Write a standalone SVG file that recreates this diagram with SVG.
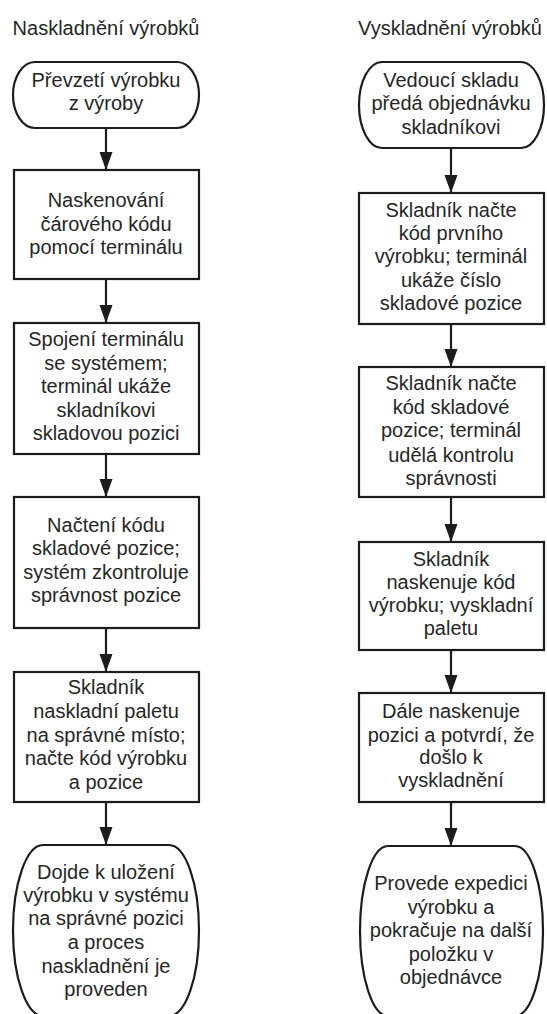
<svg xmlns="http://www.w3.org/2000/svg" width="547" height="1014" viewBox="0 0 547 1014">
  <style>
    .shape { fill: #ffffff; stroke: #1c1c1c; stroke-width: 2.2; }
    .label { font-family: "Liberation Sans", Arial, sans-serif; font-size: 20px; fill: #262626; text-anchor: middle; }
    .title { font-family: "Liberation Sans", Arial, sans-serif; font-size: 20px; fill: #262626; text-anchor: middle; }
    .flow { stroke: #1c1c1c; stroke-width: 2.2; fill: none; marker-end: url(#arrow); }
  </style>
  <defs>
    <marker id="arrow" markerUnits="userSpaceOnUse" markerWidth="18" markerHeight="14" refX="18" refY="7" orient="auto">
      <path d="M0,0.5 L18,7 L0,13.5 z" fill="#1c1c1c"/>
    </marker>
  </defs>
  <rect width="547" height="1014" fill="#ffffff"/>

  <!-- column headings -->
  <text class="title" x="106" y="35">Naskladnění výrobků</text>
  <text class="title" x="450" y="35">Vyskladnění výrobků</text>

  <!-- connectors -->
  <g id="connectors">
    <line class="flow" x1="106" y1="128" x2="106" y2="170"/>
    <line class="flow" x1="106" y1="279" x2="106" y2="323"/>
    <line class="flow" x1="106" y1="454" x2="106" y2="497"/>
    <line class="flow" x1="106" y1="628" x2="106" y2="672"/>
    <line class="flow" x1="106" y1="802" x2="106" y2="845"/>
    <line class="flow" x1="451" y1="148" x2="451" y2="193"/>
    <line class="flow" x1="451" y1="324" x2="451" y2="367"/>
    <line class="flow" x1="451" y1="497" x2="451" y2="542"/>
    <line class="flow" x1="451" y1="650" x2="451" y2="693"/>
    <line class="flow" x1="451" y1="802" x2="451" y2="846"/>
  </g>

  <!-- inbound process -->
  <g id="in-start">
    <path class="shape" d="M35,62 H177 A22 33 0 0 1 177,128 H35 A22 33 0 0 1 35,62 Z"/>
    <text class="label" x="106" y="87">Převzetí výrobku</text>
    <text class="label" x="106" y="110">z výroby</text>
  </g>
  <g id="in-scan">
    <rect class="shape" x="14" y="170" width="185" height="109"/>
    <text class="label" x="106" y="207">Naskenování</text>
    <text class="label" x="106" y="231">čárového kódu</text>
    <text class="label" x="106" y="254">pomocí terminálu</text>
  </g>
  <g id="in-connect">
    <rect class="shape" x="14" y="323" width="185" height="131"/>
    <text class="label" x="106" y="346">Spojení terminálu</text>
    <text class="label" x="106" y="370">se systémem;</text>
    <text class="label" x="106" y="393">terminál ukáže</text>
    <text class="label" x="106" y="417">skladníkovi</text>
    <text class="label" x="106" y="440">skladovou pozici</text>
  </g>
  <g id="in-check">
    <rect class="shape" x="14" y="497" width="185" height="131"/>
    <text class="label" x="106" y="532">Načtení kódu</text>
    <text class="label" x="106" y="555">skladové pozice;</text>
    <text class="label" x="106" y="579">systém zkontroluje</text>
    <text class="label" x="106" y="602">správnost pozice</text>
  </g>
  <g id="in-store">
    <rect class="shape" x="14" y="672" width="185" height="130"/>
    <text class="label" x="106" y="694">Skladník</text>
    <text class="label" x="106" y="718">naskladní paletu</text>
    <text class="label" x="106" y="742">na správné místo;</text>
    <text class="label" x="106" y="765">načte kód výrobku</text>
    <text class="label" x="106" y="789">a pozice</text>
  </g>
  <g id="in-end">
    <path class="shape" d="M43,845 H169 A30 85.5 0 0 1 169,1016 H43 A30 85.5 0 0 1 43,845 Z"/>
    <text class="label" x="106" y="879">Dojde k uložení</text>
    <text class="label" x="106" y="902">výrobku v systému</text>
    <text class="label" x="106" y="925">na správné pozici</text>
    <text class="label" x="106" y="949">a proces</text>
    <text class="label" x="106" y="973">naskladnění je</text>
    <text class="label" x="106" y="996">proveden</text>
  </g>

  <!-- outbound process -->
  <g id="out-start">
    <path class="shape" d="M382,62 H521 A23 43 0 0 1 521,148 H382 A23 43 0 0 1 382,62 Z"/>
    <text class="label" x="451" y="87">Vedoucí skladu</text>
    <text class="label" x="451" y="110">předá objednávku</text>
    <text class="label" x="451" y="134">skladníkovi</text>
  </g>
  <g id="out-item">
    <rect class="shape" x="359" y="193" width="185" height="131"/>
    <text class="label" x="451" y="217">Skladník načte</text>
    <text class="label" x="451" y="240">kód prvního</text>
    <text class="label" x="451" y="263">výrobku; terminál</text>
    <text class="label" x="451" y="287">ukáže číslo</text>
    <text class="label" x="451" y="310">skladové pozice</text>
  </g>
  <g id="out-position">
    <rect class="shape" x="359" y="367" width="185" height="130"/>
    <text class="label" x="451" y="390">Skladník načte</text>
    <text class="label" x="451" y="414">kód skladové</text>
    <text class="label" x="451" y="437">pozice; terminál</text>
    <text class="label" x="451" y="462">udělá kontrolu</text>
    <text class="label" x="451" y="485">správnosti</text>
  </g>
  <g id="out-pick">
    <rect class="shape" x="359" y="542" width="185" height="108"/>
    <text class="label" x="451" y="566">Skladník</text>
    <text class="label" x="451" y="589">naskenuje kód</text>
    <text class="label" x="451" y="612">výrobku; vyskladní</text>
    <text class="label" x="451" y="635">paletu</text>
  </g>
  <g id="out-confirm">
    <rect class="shape" x="359" y="693" width="185" height="109"/>
    <text class="label" x="451" y="718">Dále naskenuje</text>
    <text class="label" x="451" y="742">pozici a potvrdí, že</text>
    <text class="label" x="451" y="764">došlo k</text>
    <text class="label" x="451" y="787">vyskladnění</text>
  </g>
  <g id="out-end">
    <path class="shape" d="M388,846 H515 A28 85 0 0 1 515,1016 H388 A28 85 0 0 1 388,846 Z"/>
    <text class="label" x="451" y="890">Provede expedici</text>
    <text class="label" x="451" y="914">výrobku a</text>
    <text class="label" x="451" y="937">pokračuje na další</text>
    <text class="label" x="451" y="961">položku v</text>
    <text class="label" x="451" y="984">objednávce</text>
  </g>
</svg>
